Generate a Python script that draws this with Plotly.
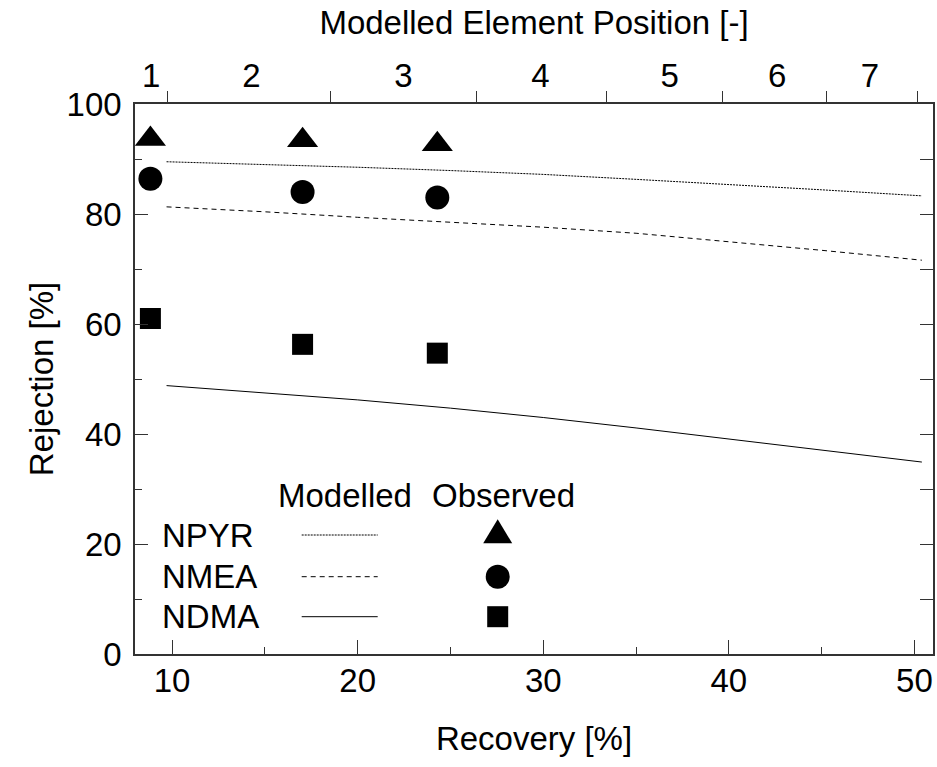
import plotly.graph_objects as go

# ---------------- data ----------------
species = ["NPYR", "NMEA", "NDMA"]

# Observed rejections
obs_recovery = [8.83, 17.03, 24.29]
obs_npyr = [93.65, 93.4, 92.7]
obs_nmea = [86.4, 84.0, 83.0]
obs_ndma = [61.0, 56.3, 54.7]

# Modelled rejections
mod_recovery = [9.7, 15, 20, 25, 30, 35, 40, 45, 50.4]
mod_npyr = [89.5, 89.0, 88.5, 87.9, 87.2, 86.3, 85.4, 84.4, 83.3]
mod_nmea = [81.3, 80.4, 79.4, 78.5, 77.6, 76.5, 75.0, 73.4, 71.6]
mod_ndma = [48.8, 47.5, 46.2, 44.7, 43.0, 41.1, 39.1, 37.0, 34.9]

# Top axis: modelled element positions (in recovery units)
element_labels = ["1", "2", "3", "4", "5", "6", "7"]
element_label_pos = [8.87, 14.27, 22.46, 29.84, 36.81, 42.6, 47.6]
element_bounds = [9.73, 18.55, 26.41, 33.42, 39.68, 45.26, 50.14]

# ---------------- style ----------------
FONT = "Liberation Sans, Arial, sans-serif"
FS = 33
FRAME = "#333333"
XR = [8, 51]
YR = [0, 100]
L, R, T, B = 135, 4, 104, 113
W, H = 937, 767
PW, PH = W - L - R, H - T - B


def px(xp):
    return (xp - L) / PW


def py(yp):
    return (H - B - yp) / PH


dashes = {"NPYR": "2px,1px", "NMEA": "5px,4px", "NDMA": "solid"}
symbols = {"NPYR": "triangle-up", "NMEA": "circle", "NDMA": "square"}
sizes = {"NPYR": 27, "NMEA": 24, "NDMA": 21}

fig = go.Figure()

for name, yv in zip(species, [mod_npyr, mod_nmea, mod_ndma]):
    fig.add_trace(go.Scatter(x=mod_recovery, y=yv, mode="lines", name=name + " modelled",
                             line=dict(color="black", width=1, dash=dashes[name]),
                             showlegend=False, hoverinfo="skip"))

for name, yv in zip(species, [obs_npyr, obs_nmea, obs_ndma]):
    fig.add_trace(go.Scatter(x=obs_recovery, y=yv, mode="markers", name=name + " observed",
                             marker=dict(symbol=symbols[name], size=sizes[name], color="black",
                                         line=dict(width=0)),
                             showlegend=False))

# invisible traces to attach the extra axes
fig.add_trace(go.Scatter(x=[XR[0]], y=[0], xaxis="x2", mode="markers",
                         marker=dict(opacity=0), showlegend=False, hoverinfo="skip"))
fig.add_trace(go.Scatter(x=[XR[0]], y=[0], xaxis="x3", mode="markers",
                         marker=dict(opacity=0), showlegend=False, hoverinfo="skip"))
fig.add_trace(go.Scatter(x=[XR[0]], y=[0], yaxis="y2", mode="markers",
                         marker=dict(opacity=0), showlegend=False, hoverinfo="skip"))

tickfont = dict(family=FONT, size=FS, color="black")

fig.update_layout(
    width=W, height=H,
    margin=dict(l=L, r=R, t=T, b=B, pad=0),
    paper_bgcolor="white", plot_bgcolor="white",
    font=dict(family=FONT, size=FS, color="black"),
    showlegend=False,
    xaxis=dict(
        range=XR, showgrid=False, zeroline=False,
        showline=True, linecolor=FRAME, linewidth=1.5,
        tickmode="linear", tick0=10, dtick=10,
        ticks="inside", ticklen=14, tickwidth=1, tickcolor=FRAME,
        minor=dict(dtick=5, tick0=0, ticks="inside", ticklen=7, tickwidth=1, tickcolor=FRAME),
        tickfont=tickfont, ticklabelstandoff=-3,
        title=dict(text="Recovery [%]", font=dict(family=FONT, size=FS), standoff=29),
    ),
    xaxis2=dict(
        range=XR, overlaying="x", side="top", anchor="y", showgrid=False, zeroline=False,
        showline=True, linecolor=FRAME, linewidth=1.5,
        tickmode="array", tickvals=element_label_pos, ticktext=element_labels,
        ticks="", tickfont=tickfont, ticklabelstandoff=2,
        title=dict(text="Modelled Element Position [-]", font=dict(family=FONT, size=FS), standoff=12),
    ),
    xaxis3=dict(
        range=XR, overlaying="x", side="top", anchor="y", showgrid=False, zeroline=False,
        showline=False, tickmode="array", tickvals=element_bounds,
        ticks="outside", ticklen=12, tickwidth=1, tickcolor=FRAME, showticklabels=False,
    ),
    yaxis=dict(
        range=YR, showgrid=False, zeroline=False,
        showline=True, linecolor=FRAME, linewidth=1.5,
        tickmode="linear", tick0=0, dtick=20,
        ticks="inside", ticklen=13, tickwidth=1, tickcolor=FRAME,
        minor=dict(dtick=10, tick0=0, ticks="inside", ticklen=7, tickwidth=1, tickcolor=FRAME),
        tickfont=tickfont, ticklabelstandoff=5,
        title=dict(text="Rejection [%]", font=dict(family=FONT, size=FS), standoff=3),
    ),
    yaxis2=dict(
        range=YR, overlaying="y", side="right", anchor="x", showgrid=False, zeroline=False,
        showline=True, linecolor=FRAME, linewidth=1.5,
        tickmode="linear", tick0=0, dtick=10,
        ticks="inside", ticklen=13, tickwidth=1, tickcolor=FRAME, showticklabels=False,
    ),
)

# ---------------- hand-built key ----------------
ann = []
ann.append(dict(text="Modelled", x=px(276), y=py(496), xref="paper", yref="paper",
                xanchor="left", yanchor="middle", showarrow=False,
                font=dict(family=FONT, size=FS, color="black")))
ann.append(dict(text="Observed", x=px(430), y=py(496), xref="paper", yref="paper",
                xanchor="left", yanchor="middle", showarrow=False,
                font=dict(family=FONT, size=FS, color="black")))
row_y = {"NPYR": 535, "NMEA": 576.7, "NDMA": 616.7}
shapes = []
for name in species:
    yy = row_y[name]
    ann.append(dict(text=name, x=px(160), y=py(yy), xref="paper", yref="paper",
                    xanchor="left", yanchor="middle", showarrow=False,
                    font=dict(family=FONT, size=FS, color="black")))
    shapes.append(dict(type="line", xref="paper", yref="paper",
                       x0=px(301.7), x1=px(377.7), y0=py(yy), y1=py(yy),
                       line=dict(color="black", width=1, dash=dashes[name])))
mx = px(497.7)
# triangle
shapes.append(dict(type="path", xref="paper", yref="paper", xsizemode="pixel", ysizemode="pixel",
                   xanchor=mx, yanchor=py(543.3),
                   path="M-14.5,0 L14.5,0 L0,24 Z", fillcolor="black", line=dict(width=0)))
# circle
shapes.append(dict(type="circle", xref="paper", yref="paper", xsizemode="pixel", ysizemode="pixel",
                   xanchor=mx, yanchor=py(576.7), x0=-12, x1=12, y0=-12, y1=12,
                   fillcolor="black", line=dict(width=0)))
# square
shapes.append(dict(type="rect", xref="paper", yref="paper", xsizemode="pixel", ysizemode="pixel",
                   xanchor=mx, yanchor=py(616.7), x0=-10.5, x1=10.5, y0=-10.5, y1=10.5,
                   fillcolor="black", line=dict(width=0)))

fig.update_layout(annotations=ann, shapes=shapes)

fig.write_html("out.html")
